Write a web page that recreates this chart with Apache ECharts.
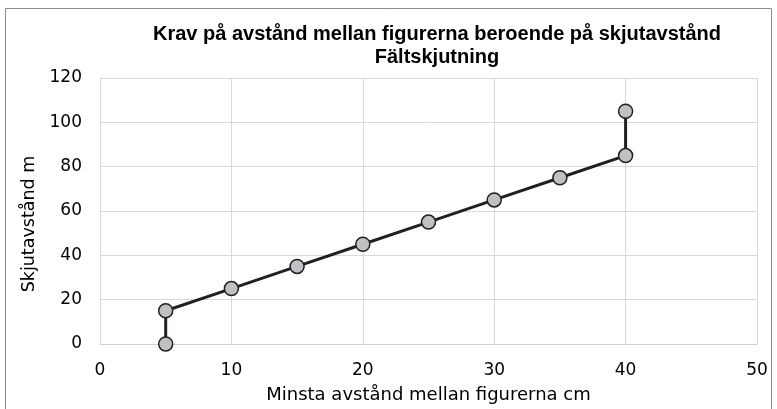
<!DOCTYPE html>
<html><head><meta charset="utf-8">
<script src="https://cdn.jsdelivr.net/npm/echarts@6/dist/echarts.min.js"></script>
<style>html,body{margin:0;padding:0;background:#fff}#c{width:777px;height:409px}</style>
</head><body><div id="c"></div>
<script>
var xValues = [5, 5, 10, 15, 20, 25, 30, 35, 40, 40];
var yValues = [0, 15, 25, 35, 45, 55, 65, 75, 85, 105];
var titleLines = ['Krav på avstånd mellan figurerna beroende på skjutavstånd', 'Fältskjutning'];
var xName = 'Minsta avstånd mellan figurerna cm';
var yName = 'Skjutavstånd m';
var points = xValues.map(function(x, i){ return [x, yValues[i]]; });
var titleFont = 'Liberation Sans, Arial, sans-serif';
var font = 'DejaVu Sans, sans-serif';
var chart = echarts.init(document.getElementById('c'));
chart.setOption({
  animation: false,
  title: {text: titleLines.join('\n'), left: 432, textAlign: 'center', top: 18,
    textStyle: {fontFamily: titleFont, fontWeight: 'bold', fontSize: 20, color: '#000', lineHeight: 23}},
  graphic: [{type: 'rect', shape: {x: 5.5, y: 8.5, width: 766, height: 420},
    style: {fill: 'none', stroke: '#8c8c8c', lineWidth: 1}, silent: true}],
  grid: {left: 100, right: 20, top: 78, bottom: 64},
  xAxis: {type: 'value', min: 0, max: 50, interval: 10, name: xName, nameLocation: 'middle', nameGap: 42,
    nameTextStyle: {fontFamily: font, fontSize: 18, color: '#000'},
    axisLine: {lineStyle: {color: '#d0d0d0'}}, axisTick: {show: false},
    axisLabel: {fontFamily: font, fontSize: 17, color: '#000', margin: 18},
    splitLine: {lineStyle: {color: '#d9d9d9', width: 1}}},
  yAxis: {type: 'value', min: 0, max: 120, interval: 20, name: yName, nameLocation: 'middle', nameGap: 57,
    nameTextStyle: {fontFamily: font, fontSize: 17.5, color: '#000', padding: [0, 26, 0, 0]},
    axisLine: {show: true, lineStyle: {color: '#d9d9d9'}}, axisTick: {show: false},
    axisLabel: {fontFamily: font, fontSize: 17, color: '#000', margin: 18},
    splitLine: {lineStyle: {color: '#d9d9d9', width: 1}}},
  series: [{type: 'line', data: points, symbol: 'circle', symbolSize: 14,
    lineStyle: {color: '#231f20', width: 3},
    itemStyle: {color: '#c0c1c4', borderColor: '#231f20', borderWidth: 1.5}}]
});
</script></body></html>
